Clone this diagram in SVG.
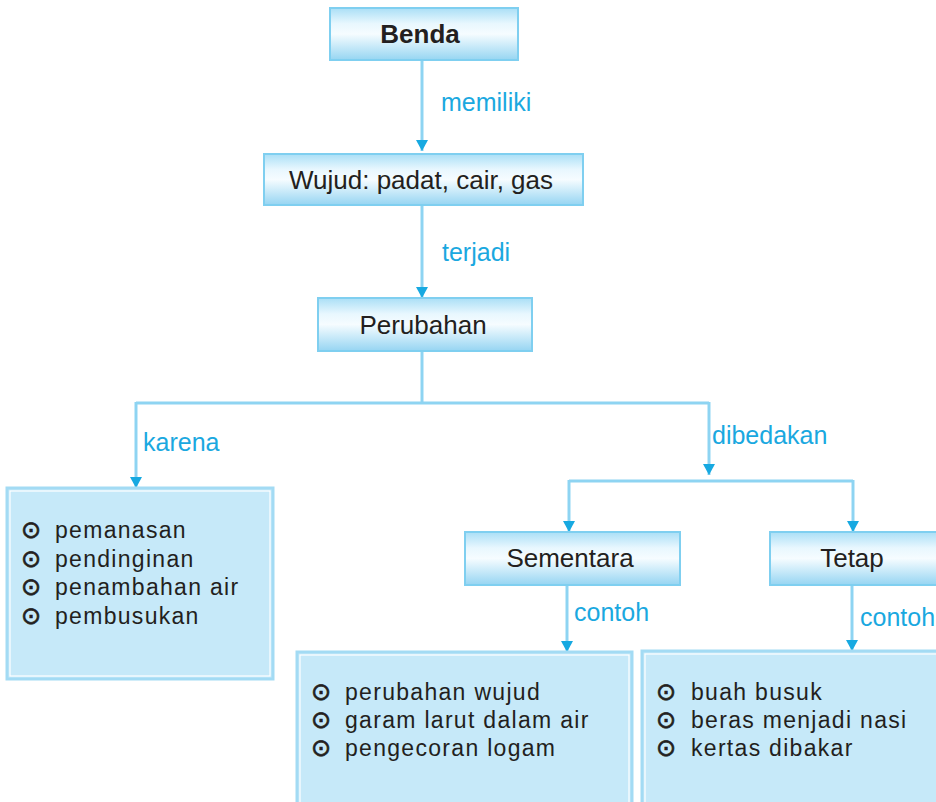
<svg xmlns="http://www.w3.org/2000/svg" width="936" height="802" viewBox="0 0 936 802">
<defs>
<linearGradient id="g" x1="0" y1="0" x2="0" y2="1">
<stop offset="0" stop-color="#aadff6"/>
<stop offset="0.3" stop-color="#e8f7fe"/>
<stop offset="0.5" stop-color="#f6fcff"/>
<stop offset="1" stop-color="#96d5f2"/>
</linearGradient>
<marker id="a" viewBox="0 0 11 12" refX="11" refY="6" markerWidth="11" markerHeight="12" markerUnits="userSpaceOnUse" orient="auto">
<path d="M0,0 L11,6 L0,12 Z" fill="#17a9e1"/>
</marker>
<style>
.box{fill:url(#g);stroke:#7fcff0;stroke-width:2}
.list{fill:#c6e9f9;stroke:#a3dbf4;stroke-width:3}
.inner{fill:none;stroke:#ffffff;stroke-width:1.2}
.t{font-family:"Liberation Sans",Arial,sans-serif;font-size:26px;fill:#231f20;text-anchor:middle}
.lb{font-family:"Liberation Sans",Arial,sans-serif;font-size:25px;fill:#1aa8e0}
.li{font-family:"Liberation Sans",Arial,sans-serif;font-size:23px;fill:#231f20;letter-spacing:1.3px}
.bu{font-family:"DejaVu Sans",sans-serif;font-size:24px;fill:#231f20;stroke:#231f20;stroke-width:0.7}
.c{fill:none;stroke:#8ed4f2;stroke-width:3}
</style>
</defs>
<rect width="936" height="802" fill="#ffffff"/>
<g id="connectors">
<path class="c" d="M422,60 V151" marker-end="url(#a)"/>
<path class="c" d="M422,205 V298" marker-end="url(#a)"/>
<path class="c" d="M422,351 V403"/>
<path class="c" d="M136,403 H709"/>
<path class="c" d="M136,402 V488" marker-end="url(#a)"/>
<path class="c" d="M709,402 V475" marker-end="url(#a)"/>
<path class="c" d="M569,481 H853"/>
<path class="c" d="M569,480 V532" marker-end="url(#a)"/>
<path class="c" d="M853,480 V532" marker-end="url(#a)"/>
<path class="c" d="M567,585 V652" marker-end="url(#a)"/>
<path class="c" d="M852,585 V651" marker-end="url(#a)"/>
<text class="lb" x="441" y="111">memiliki</text>
<text class="lb" x="442" y="261">terjadi</text>
<text class="lb" x="143" y="451">karena</text>
<text class="lb" x="712" y="444">dibedakan</text>
<text class="lb" x="574" y="621">contoh</text>
<text class="lb" x="860" y="626">contoh</text>
</g>
<g id="benda">
<rect class="box" x="330" y="8" width="188" height="52"/>
<text class="t" x="420" y="43" font-weight="bold">Benda</text>
</g>
<g id="wujud">
<rect class="box" x="264" y="154" width="319" height="51"/>
<text class="t" x="421" y="189">Wujud: padat, cair, gas</text>
</g>
<g id="perubahan">
<rect class="box" x="318" y="298" width="214" height="53"/>
<text class="t" x="423" y="334">Perubahan</text>
</g>
<g id="sementara">
<rect class="box" x="465" y="532" width="215" height="53"/>
<text class="t" x="570" y="567">Sementara</text>
</g>
<g id="tetap">
<rect class="box" x="770" y="532" width="175" height="53"/>
<text class="t" x="852" y="567">Tetap</text>
</g>
<g id="karena-list">
<rect class="list" x="7" y="488" width="266" height="191"/>
<rect class="inner" x="10" y="491" width="260" height="185"/>
<text class="bu" x="21" y="538">⊙</text>
<text class="bu" x="21" y="567">⊙</text>
<text class="bu" x="21" y="595">⊙</text>
<text class="bu" x="21" y="624">⊙</text>
<text class="li" x="55" y="538">pemanasan</text>
<text class="li" x="55" y="567">pendinginan</text>
<text class="li" x="55" y="595">penambahan air</text>
<text class="li" x="55" y="624">pembusukan</text>
</g>
<g id="sementara-list">
<rect class="list" x="297" y="652" width="335" height="160"/>
<rect class="inner" x="300" y="655" width="329" height="160"/>
<text class="bu" x="311" y="700">⊙</text>
<text class="bu" x="311" y="728">⊙</text>
<text class="bu" x="311" y="756">⊙</text>
<text class="li" x="345" y="700">perubahan wujud</text>
<text class="li" x="345" y="728">garam larut dalam air</text>
<text class="li" x="345" y="756">pengecoran logam</text>
</g>
<g id="tetap-list">
<rect class="list" x="642" y="651" width="310" height="160"/>
<rect class="inner" x="645" y="654" width="310" height="160"/>
<text class="bu" x="656" y="700">⊙</text>
<text class="bu" x="656" y="728">⊙</text>
<text class="bu" x="656" y="756">⊙</text>
<text class="li" x="691" y="700">buah busuk</text>
<text class="li" x="691" y="728">beras menjadi nasi</text>
<text class="li" x="691" y="756">kertas dibakar</text>
</g>
</svg>
